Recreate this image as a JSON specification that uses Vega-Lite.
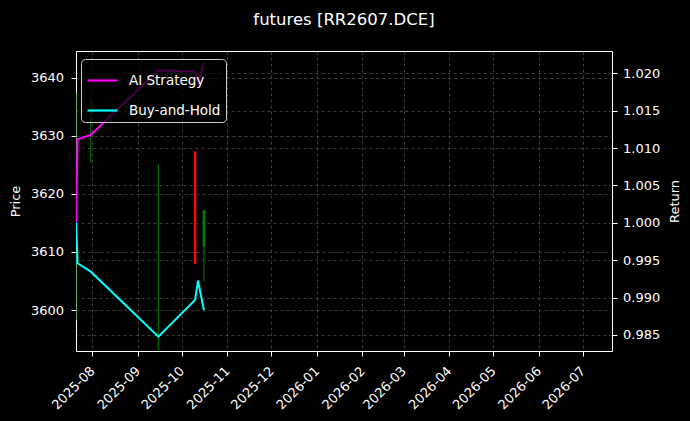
{
  "$schema": "https://vega.github.io/schema/vega-lite/v6.json",
  "autosize": {"type": "none"},
  "width": 536,
  "height": 300,
  "padding": {"left": 76, "top": 51, "right": 78, "bottom": 70},
  "background": "#000000",
  "title": {"text": "futures [RR2607.DCE]", "color": "#ffffff", "fontSize": 16.5, "fontWeight": "normal", "font": "DejaVu Sans", "anchor": "middle", "offset": 10, "baseline": "alphabetic"},
  "config": {
    "view": {"stroke": "#ffffff", "strokeWidth": 1},
    "font": "DejaVu Sans",
    "axis": {"labelColor": "#ffffff", "titleColor": "#ffffff", "tickColor": "#ffffff", "domain": false, "labelFont": "DejaVu Sans", "titleFont": "DejaVu Sans", "labelFontSize": 13, "titleFontSize": 13, "titleFontWeight": "normal", "gridColor": "#666666", "gridDash": [3, 3], "gridWidth": 0.6, "tickSize": 5, "tickWidth": 1}
  },
  "datasets": {
    "candles": [
      {"date": "2025-07-21T00:00:00", "open": 3615, "high": 3637.4, "low": 3598.3, "close": 3615},
      {"date": "2025-07-31T00:00:00", "open": 3630, "high": 3636.4, "low": 3625.3, "close": 3630},
      {"date": "2025-09-15T00:00:00", "open": 3610, "high": 3625.1, "low": 3593.0, "close": 3610},
      {"date": "2025-10-10T00:00:00", "open": 3627.3, "high": 3627.3, "low": 3607.9, "close": 3607.9},
      {"date": "2025-10-16T00:00:00", "open": 3610.9, "high": 3617.2, "low": 3604.9, "close": 3617.2}
    ],
    "returns": [
      {"date": "2025-07-21T00:00:00", "series": "AI Strategy", "value": 1.0},
      {"date": "2025-07-22T00:00:00", "series": "AI Strategy", "value": 1.01117},
      {"date": "2025-07-31T00:00:00", "series": "AI Strategy", "value": 1.01175},
      {"date": "2025-09-15T00:00:00", "series": "AI Strategy", "value": 1.0204},
      {"date": "2025-10-10T00:00:00", "series": "AI Strategy", "value": 1.0202},
      {"date": "2025-10-12T00:00:00", "series": "AI Strategy", "value": 1.01866},
      {"date": "2025-10-16T00:00:00", "series": "AI Strategy", "value": 1.02134},
      {"date": "2025-07-21T00:00:00", "series": "Buy-and-Hold", "value": 1.0},
      {"date": "2025-07-22T00:00:00", "series": "Buy-and-Hold", "value": 0.99459},
      {"date": "2025-07-31T00:00:00", "series": "Buy-and-Hold", "value": 0.99347},
      {"date": "2025-09-15T00:00:00", "series": "Buy-and-Hold", "value": 0.98477},
      {"date": "2025-10-10T00:00:00", "series": "Buy-and-Hold", "value": 0.98968},
      {"date": "2025-10-12T00:00:00", "series": "Buy-and-Hold", "value": 0.99226},
      {"date": "2025-10-16T00:00:00", "series": "Buy-and-Hold", "value": 0.98834}
    ]
  },
  "layer": [
    {
      "data": {"name": "candles"},
      "encoding": {
        "x": {
          "field": "date", "type": "temporal",
          "scale": {"domain": [{"year": 2025, "month": 7, "date": 20, "hours": 22}, {"year": 2026, "month": 7, "date": 20, "hours": 22}], "nice": false},
          "axis": {"title": null, "format": "%Y-%m", "tickCount": {"interval": "month", "step": 1}, "labelOverlap": false, "labelAngle": -45, "labelAlign": "right", "labelBaseline": "middle", "labelPadding": 12.5, "grid": true}
        },
        "color": {"condition": {"test": "datum.close >= datum.open", "value": "#008000"}, "value": "#ff0000"}
      },
      "layer": [
        {
          "mark": {"type": "rule", "strokeWidth": 1, "clip": true},
          "encoding": {
            "y": {"field": "low", "type": "quantitative", "scale": {"domain": [3592.94, 3644.6], "nice": false, "zero": false},
                  "axis": {"orient": "left", "title": "Price", "format": "d", "values": [3600, 3610, 3620, 3630, 3640], "grid": true, "labelPadding": 7.5, "titlePadding": 8}},
            "y2": {"field": "high"}
          }
        },
        {
          "mark": {"type": "rule", "strokeWidth": 2.5, "clip": true},
          "encoding": {
            "y": {"field": "open", "type": "quantitative"},
            "y2": {"field": "close"}
          }
        }
      ]
    },
    {
      "data": {"name": "returns"},
      "mark": {"type": "line", "strokeWidth": 2, "clip": true},
      "encoding": {
        "x": {"field": "date", "type": "temporal"},
        "y": {"field": "value", "type": "quantitative", "scale": {"domain": [0.98286, 1.02298], "nice": false, "zero": false},
              "axis": {"orient": "right", "title": "Return", "values": [0.985, 0.99, 0.995, 1.0, 1.005, 1.01, 1.015, 1.02], "format": ".3f", "grid": true, "labelPadding": 5.5, "titlePadding": 9, "titleAngle": 270, "titleBaseline": "top"}},
        "color": {"field": "series", "type": "nominal", "scale": {"domain": ["AI Strategy", "Buy-and-Hold"], "range": ["#ff00ff", "#00ffff"]},
                  "legend": {"title": null, "orient": "none", "legendX": 5, "legendY": 8, "fillColor": "rgba(0,0,0,0.72)", "strokeColor": "#cccccc", "cornerRadius": 4, "padding": 5, "labelColor": "#ffffff", "labelFontSize": 13.5, "labelFont": "DejaVu Sans", "symbolType": "stroke", "symbolStrokeWidth": 2.2, "symbolSize": 900, "labelOffset": 10, "rowPadding": 7, "zindex": 2}}
      }
    }
  ],
  "resolve": {"scale": {"y": "independent"}, "axis": {"y": "independent"}}
}
